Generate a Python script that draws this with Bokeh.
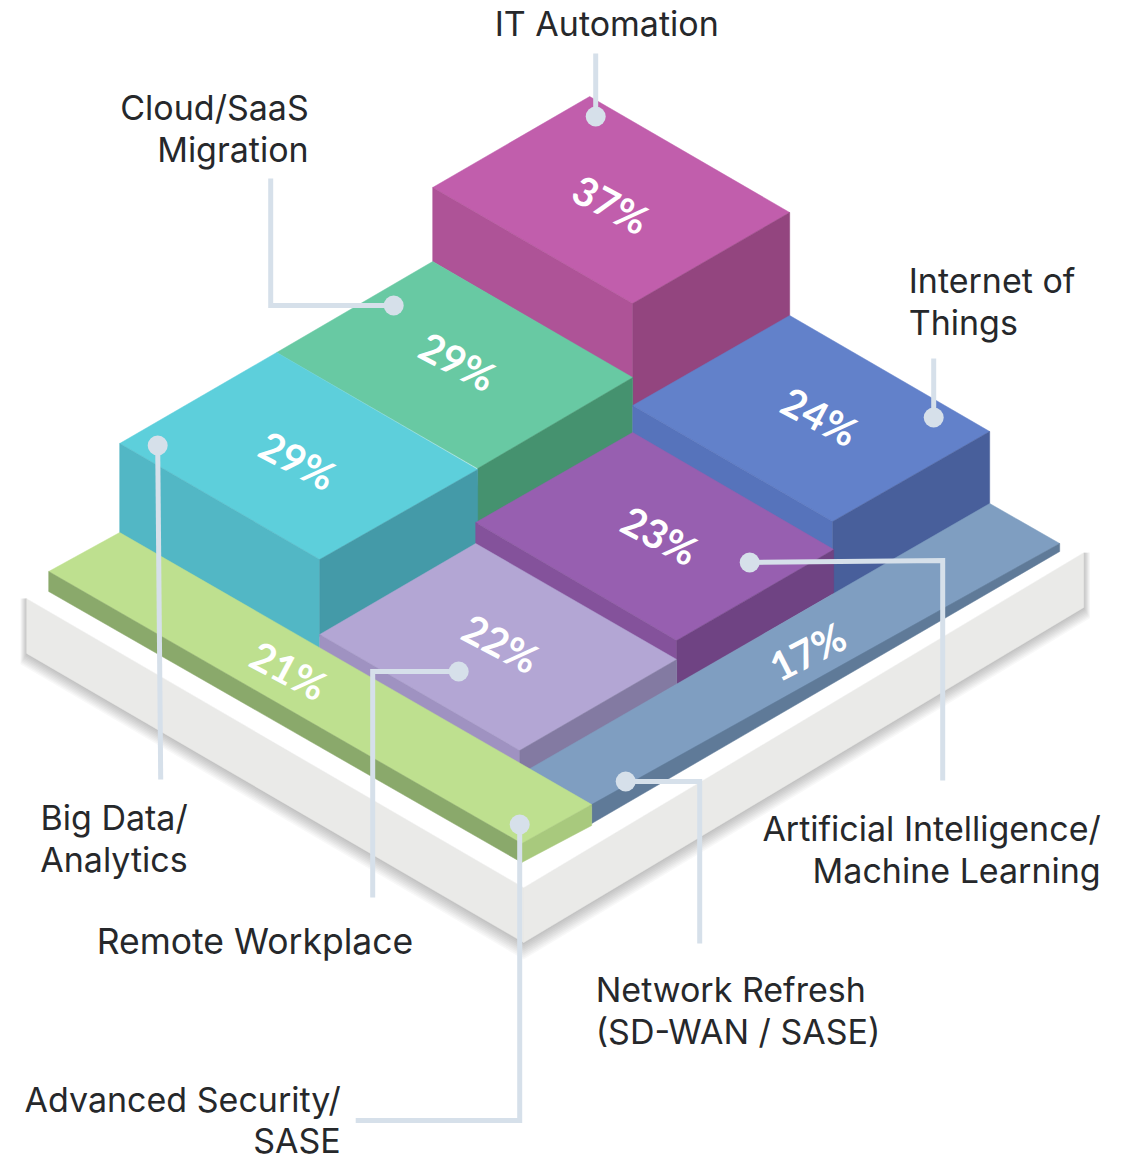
from bokeh.plotting import figure
from bokeh.models import Range1d
from bokeh.embed import file_html
from bokeh.resources import INLINE
from bokeh.core.properties import value
import math

# --- chart values ---
categories = ["IT Automation", "Cloud/SaaS Migration", "Big Data/Analytics", "Internet of Things",
              "Artificial Intelligence/Machine Learning", "Remote Workplace",
              "Advanced Security/SASE", "Network Refresh (SD-WAN / SASE)"]
values = [37, 29, 29, 24, 23, 22, 21, 17]

# --- label layout: percent text centre and rotation per category ---
pct_x = [611, 458, 298, 820, 660, 501, 289, 808]
pct_y = [204, 361, 460, 416, 535, 643, 670, 651]
pct_rot = [-28, -28, -28, -28, -28, -28, -28, 27]

# --- illustration geometry, in picture space ---
base_top = [(27, 598), (524, 887), (1084, 552), (587, 263)]
base_left = [(27, 598), (524, 887), (524, 942), (27, 653)]
base_right = [(524, 887), (1084, 552), (1084, 607), (524, 942)]

faces = [
    # magenta
    ([(433, 187), (590, 96), (790, 212), (633, 303)], "#C15EAC"),
    ([(433, 187), (633, 303), (633, 378), (433, 261)], "#AE5397"),
    ([(633, 303), (790, 212), (790, 316), (633, 406)], "#93457F"),
    # green block
    ([(277, 352), (433, 261), (633, 377), (478, 468)], "#68C9A3"),
    ([(478, 468), (633, 377), (633, 433), (476, 524)], "#45926F"),
    # cyan
    ([(120, 443), (277, 352), (478, 469), (320, 559)], "#5DCFDB"),
    ([(120, 443), (320, 559), (320, 650), (120, 534)], "#52B7C5"),
    ([(320, 559), (478, 469), (478, 545), (320, 636)], "#449AA8"),
    # blue block
    ([(633, 405), (790, 315), (990, 431), (833, 521)], "#6281CA"),
    ([(633, 405), (833, 521), (833, 550), (633, 433)], "#5673BB"),
    ([(833, 521), (990, 431), (990, 504), (833, 595)], "#485F9B"),
    # purple
    ([(476, 522), (633, 432), (834, 549), (677, 640)], "#975FB0"),
    ([(476, 522), (677, 640), (677, 660), (476, 544)], "#84529B"),
    ([(677, 640), (834, 549), (834, 593), (677, 684)], "#6F4383"),
    # lavender
    ([(320, 634), (476, 543), (677, 659), (520, 750)], "#B3A6D4"),
    ([(320, 634), (520, 750), (520, 770), (320, 652)], "#9F92C1"),
    ([(520, 750), (677, 659), (677, 684), (533, 768), (520, 770)], "#837AA2"),
    # blue strip
    ([(527, 770), (990, 503), (1060, 543), (592, 806)], "#7F9EC1"),
    ([(592, 804), (1060, 543), (1060, 551), (592, 823)], "#5F7A98"),
    # green strip
    ([(49, 571), (120, 532), (592, 804), (522, 843)], "#BEE08F"),
    ([(49, 571), (522, 843), (522, 862), (49, 591)], "#8AA96B"),
    ([(522, 843), (592, 804), (592, 825), (522, 862)], "#A8C97D"),
]

leaders = [
    [(596, 53), (596, 116)],
    [(271, 178), (271, 305), (394, 305)],
    [(934, 358), (934, 417)],
    [(750, 562), (943, 560), (943, 780)],
    [(626, 781), (700, 781), (700, 943)],
    [(520, 824), (520, 1120), (356, 1120)],
    [(459, 671), (373, 671), (373, 897)],
    [(158, 445), (161, 779)],
]
dots = [(596, 116), (394, 305), (934, 417), (750, 562), (626, 781), (520, 824), (459, 671), (158, 445)]

labels = [
    ("IT Automation", 495, 23, "left", 34),
    ("Cloud/SaaS", 309, 107, "right", 34),
    ("Migration", 309, 149, "right", 34),
    ("Internet of", 909, 280, "left", 34),
    ("Things", 909, 322, "left", 34),
    ("Big Data/", 188, 817, "right", 34),
    ("Analytics", 188, 859, "right", 34),
    ("Remote Workplace", 97, 941, "left", 35.5),
    ("Advanced Security/", 341, 1099, "right", 34),
    ("SASE", 341, 1140, "right", 34),
    ("Network Refresh", 596, 989, "left", 34),
    ("(SD-WAN / SASE)", 596, 1031, "left", 34),
    ("Artificial Intelligence/", 1101, 828, "right", 34),
    ("Machine Learning", 1101, 870, "right", 34),
]

p = figure(width=1121, height=1154, output_backend="svg", toolbar_location=None,
           x_range=Range1d(0.8, 1121.8), y_range=Range1d(1154, 0), min_border=0)
p.axis.visible = False
p.grid.visible = False
p.outline_line_color = None
p.background_fill_color = "#ffffff"
p.border_fill_color = "#ffffff"


def poly(points, color, alpha=1.0):
    p.patch([q[0] for q in points], [q[1] for q in points], fill_color=color,
            fill_alpha=alpha, line_color=color if alpha == 1.0 else None,
            line_alpha=alpha, line_width=0.5)


# soft shadow beneath the plinth
silhouette = [(27, 598), (27, 653), (524, 942), (1084, 607), (1084, 552)]
for k in range(1, 10):
    off = [(silhouette[0][0] - k * 0.7, silhouette[0][1]),
           (silhouette[1][0] - k * 0.7, silhouette[1][1] + k * 1.2),
           (silhouette[2][0], silhouette[2][1] + k * 1.9),
           (silhouette[3][0] + k * 0.7, silhouette[3][1] + k * 1.2),
           (silhouette[4][0] + k * 0.7, silhouette[4][1])]
    poly(off, "#000000", 0.028)

poly(base_left, "#EAEAE8")
poly(base_right, "#EAEAE8")
poly(base_top, "#FFFFFF")

for pts, col in faces:
    poly(pts, col)

for line in leaders:
    p.line([q[0] for q in line], [q[1] for q in line], line_color="#D6E0EA",
           line_width=5, line_join="miter")
p.scatter([d[0] for d in dots], [d[1] for d in dots], size=20, marker="circle",
          fill_color="#D6E0EA", line_color=None)

p.text(x=pct_x, y=pct_y, text=[f"{v}%" for v in values],
       angle=[math.radians(a) for a in pct_rot], text_color="#FFFFFF",
       text_font=value("Lato"), text_font_style="bold", text_font_size="40px",
       text_align="center", text_baseline="middle")

for txt, x, y, align, size in labels:
    p.text(x=[x], y=[y], text=[txt], text_color="#26282B", text_font=value("Inter"),
           text_font_size=f"{size}px", text_align=align, text_baseline="middle")

open("out.html", "w").write(file_html(p, INLINE))
